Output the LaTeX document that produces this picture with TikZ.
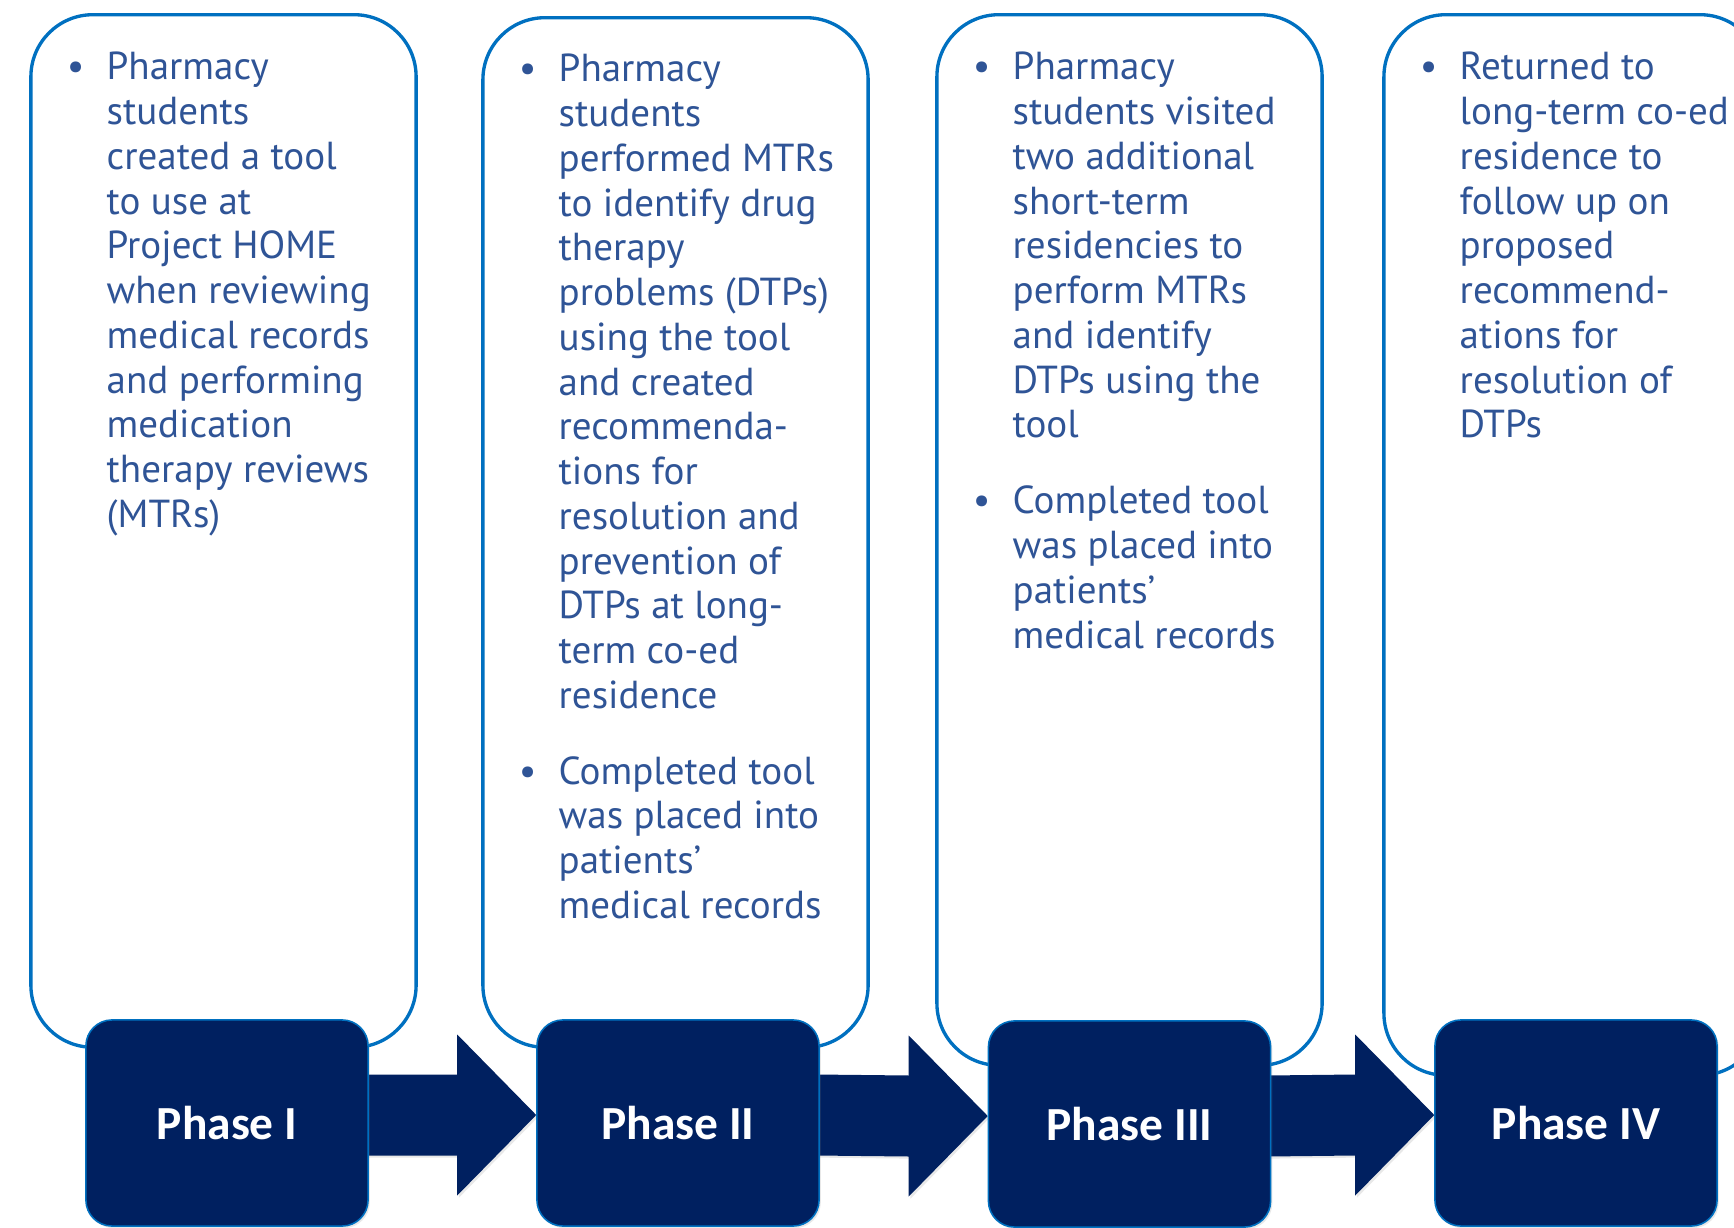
\documentclass[tikz,border=0pt]{standalone}
\usepackage{fontspec}
\setmainfont{PT Sans}
\newfontfamily\phasefont{Carlito}
\usetikzlibrary{calc,shadows}

\definecolor{edgeblue}{RGB}{0,112,192}
\definecolor{navy}{RGB}{0,32,96}
\definecolor{bodyblue}{RGB}{47,84,150}

% bullet hanging 0.31cm left of the text column
\newcommand{\bul}{\leavevmode\llap{\makebox[0pt][c]{\textbullet}\hspace{0.31cm}}}
\newcommand{\stagetext}[1]{\parbox[t]{4.2cm}{\raggedright\fontsize{11.1pt}{12.72pt}\selectfont #1}}
\newcommand{\bulletgap}{\par\vspace{8.9pt}}

% block arrow from the right side of one phase box to the left side of the next
\newcommand{\blockarrow}[2]{%
  \fill[navy, drop shadow={opacity=0.18, shadow xshift=0.5pt, shadow yshift=-0.6pt}]
    ($(#1.east)+(-4,-48.5)$) -- ($(#2.west)+(-79,-48.5)$) --
    ($(#2.west)+(-79,-88.5)$) -- ($(#2.west)+(0,-8)$) --
    ($(#2.west)+(-79,72.5)$) -- ($(#2.west)+(-79,32.5)$) --
    ($(#1.east)+(-4,32.5)$) -- cycle;}

\begin{document}
\begin{tikzpicture}[x=0.01cm, y=-0.01cm,
  stagebox/.style={draw=edgeblue, line width=0.95pt, rounded corners=0.62cm,
    fill=white, minimum width=3.85cm, inner sep=0pt},
  phasebox/.style={draw=edgeblue, line width=0.45pt, fill=navy, rounded corners=0.26cm,
    minimum width=2.82cm, minimum height=2.06cm, inner sep=0pt,
    text=white, font=\phasefont\bfseries\fontsize{13.5pt}{16pt}\selectfont,
    drop shadow={opacity=0.18, shadow xshift=0.5pt, shadow yshift=-0.6pt}},
  bodytext/.style={inner sep=0pt, anchor=base west, text=bodyblue}]

\useasboundingbox (0,0) rectangle (1734,1228);
\clip (0,0) rectangle (1734,1228);

% outlined stage panels
\node[stagebox, minimum height=10.32cm] (s1) at (223.5,531) {};
\node[stagebox, minimum height=10.29cm] (s2) at (675.5,532.5) {};
\node[stagebox, minimum height=10.50cm] (s3) at (1129.5,540) {};
\node[stagebox, minimum height=10.60cm, minimum width=3.78cm] (s4) at (1573,545) {};

% panel texts
\node[bodytext] (t1) at (106,80) {\stagetext{\bul Pharmacy\\ students\\ created a tool\\ to use at\\ Project HOME\\ when reviewing\\ medical records\\ and performing\\ medication\\ therapy reviews\\ (MTRs)}};

\node[bodytext] (t2) at (558,82) {\stagetext{\bul Pharmacy\\ students\\ performed MTRs\\ to identify drug\\ therapy\\ problems (DTPs)\\ using the tool\\ and created\\ recommenda-\\ tions for\\ resolution and\\ prevention of\\ DTPs at long-\\ term co-ed\\ residence\bulletgap
\bul Completed tool\\ was placed into\\ patients’\\ medical records}};

\node[bodytext] (t3) at (1012,80) {\stagetext{\bul Pharmacy\\ students visited\\ two additional\\ short-term\\ residencies to\\ perform MTRs\\ and identify\\ DTPs using the\\ tool\bulletgap
\bul Completed tool\\ was placed into\\ patients’\\ medical records}};

\node[bodytext] (t4) at (1459,80) {\stagetext{\bul Returned to\\ long-term co-ed\\ residence to\\ follow up on\\ proposed\\ recommend-\\ ations for\\ resolution of\\ DTPs}};

% phase box outlines (placed first so the arrows can refer to them)
\path (227,1123) coordinate (c1) (678,1123) coordinate (c2)
      (1129.5,1124) coordinate (c3) (1576,1123) coordinate (c4);
\path (c1) node[minimum width=2.82cm, minimum height=2.06cm] (p1) {}
      (c2) node[minimum width=2.82cm, minimum height=2.06cm] (p2) {}
      (c3) node[minimum width=2.82cm, minimum height=2.06cm] (p3) {}
      (c4) node[minimum width=2.82cm, minimum height=2.06cm] (p4) {};

% connecting block arrows
\blockarrow{p1}{p2}
\blockarrow{p2}{p3}
\blockarrow{p3}{p4}

% visible phase boxes on top of the arrows
\node[phasebox] (ph1) at (c1) {Phase I};
\node[phasebox] (ph2) at (c2) {Phase II};
\node[phasebox] (ph3) at (c3) {Phase III};
\node[phasebox] (ph4) at (c4) {Phase IV};
\end{tikzpicture}
\end{document}
